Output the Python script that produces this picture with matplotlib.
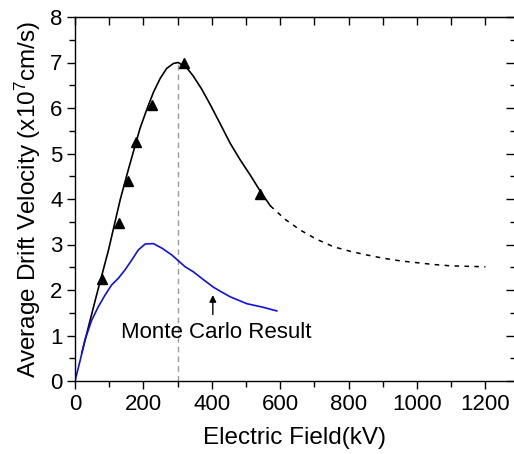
import matplotlib
matplotlib.use("Agg")
import matplotlib.pyplot as plt
from matplotlib.ticker import MultipleLocator

plt.rcParams['font.family'] = ['Liberation Sans', 'DejaVu Sans']
plt.rcParams['mathtext.fontset'] = 'custom'
plt.rcParams['mathtext.rm'] = 'Liberation Sans'
plt.rcParams['mathtext.it'] = 'Liberation Sans'

# Fitted (solid) curve
fit_x = [20, 60, 98, 132, 155, 176, 190, 210, 229, 249, 268, 288, 302, 327, 346,
         370, 395, 424, 454, 483, 512, 541, 571]
fit_y = [0.62, 1.8, 2.88, 3.98, 4.62, 5.18, 5.55, 5.97, 6.34, 6.65, 6.87, 6.98, 7.0,
         6.88, 6.70, 6.42, 6.08, 5.66, 5.22, 4.86, 4.53, 4.18, 3.85]
# Extrapolated (dashed) curve
ext_x = [571, 615, 658, 705, 756, 805, 853, 900, 951, 1000, 1049, 1100, 1150, 1200]
ext_y = [3.85, 3.55, 3.32, 3.12, 2.95, 2.85, 2.77, 2.70, 2.64, 2.60, 2.56, 2.53, 2.52, 2.51]
# Measured points
meas_x = [78, 130, 154, 178, 224, 320, 540]
meas_y = [2.24, 3.47, 4.40, 5.25, 6.07, 7.0, 4.12]
# Monte Carlo result
mc_x = [0, 15, 29, 49, 68, 88, 107, 127, 146, 166, 185, 205, 229, 254, 283, 322,
        346, 375, 405, 430, 454, 502, 550, 590]
mc_y = [0, 0.45, 0.90, 1.34, 1.63, 1.89, 2.11, 2.26, 2.44, 2.66, 2.88, 3.01, 3.02,
        2.92, 2.77, 2.51, 2.40, 2.23, 2.06, 1.95, 1.85, 1.70, 1.62, 1.54]
peak_x = 300
peak_y = 7.0

fig = plt.figure(figsize=(5.14, 4.54), dpi=100)
ax = fig.add_axes([75/514, 1-381/454, 438.5/514, 364/454])

ax.plot([peak_x, peak_x], [0, peak_y], color='#9a9a9a', lw=1.0, dashes=(4, 3))
ax.plot(fit_x, fit_y, color='black', lw=1.2)
ax.plot(ext_x, ext_y, color='black', lw=1.1, dashes=(3, 3.5))
ax.plot(mc_x, mc_y, color='#1010e0', lw=1.2)
ax.plot(meas_x, meas_y, linestyle='none', marker='^', color='black', markersize=7)

ax.annotate('', xy=(403, 1.95), xytext=(403, 1.40),
            arrowprops=dict(arrowstyle='-|>', color='black', lw=1.0, mutation_scale=10))
ax.text(412, 1.06, 'Monte Carlo Result', ha='center', va='center', fontsize=16)

ax.set_xlim(0, 1282)
ax.set_ylim(0, 8)
ax.xaxis.set_major_locator(MultipleLocator(200))
ax.xaxis.set_minor_locator(MultipleLocator(100))
ax.yaxis.set_major_locator(MultipleLocator(1))
ax.yaxis.set_minor_locator(MultipleLocator(0.5))

ax.tick_params(axis='both', which='both', direction='out', top=False, right=False,
               labelsize=16, width=1.0, pad=3)
ax.tick_params(axis='both', which='major', length=6)
ax.tick_params(axis='both', which='minor', length=4)

# inward ticks on top and right, Origin-style
secx = ax.secondary_xaxis('top')
secx.xaxis.set_major_locator(MultipleLocator(100))
secx.tick_params(direction='in', length=6, labeltop=False, width=1.0)
secy = ax.secondary_yaxis('right')
secy.yaxis.set_major_locator(MultipleLocator(1))
secy.yaxis.set_minor_locator(MultipleLocator(0.5))
secy.tick_params(which='both', direction='in', labelright=False, width=1.0)
secy.tick_params(which='major', length=6)
secy.tick_params(which='minor', length=3)
secy.spines['right'].set_visible(False)
ax.spines['right'].set_visible(False)

for s in ['left', 'bottom', 'top']:
    ax.spines[s].set_linewidth(1.0)

ax.set_xlabel('Electric Field(kV)', fontsize=17.5, labelpad=9)
ax.set_ylabel('Average Drift Velocity (x10$^{7}$cm/s)', fontsize=17.5, labelpad=5)

fig.savefig('out.png', dpi=100)
